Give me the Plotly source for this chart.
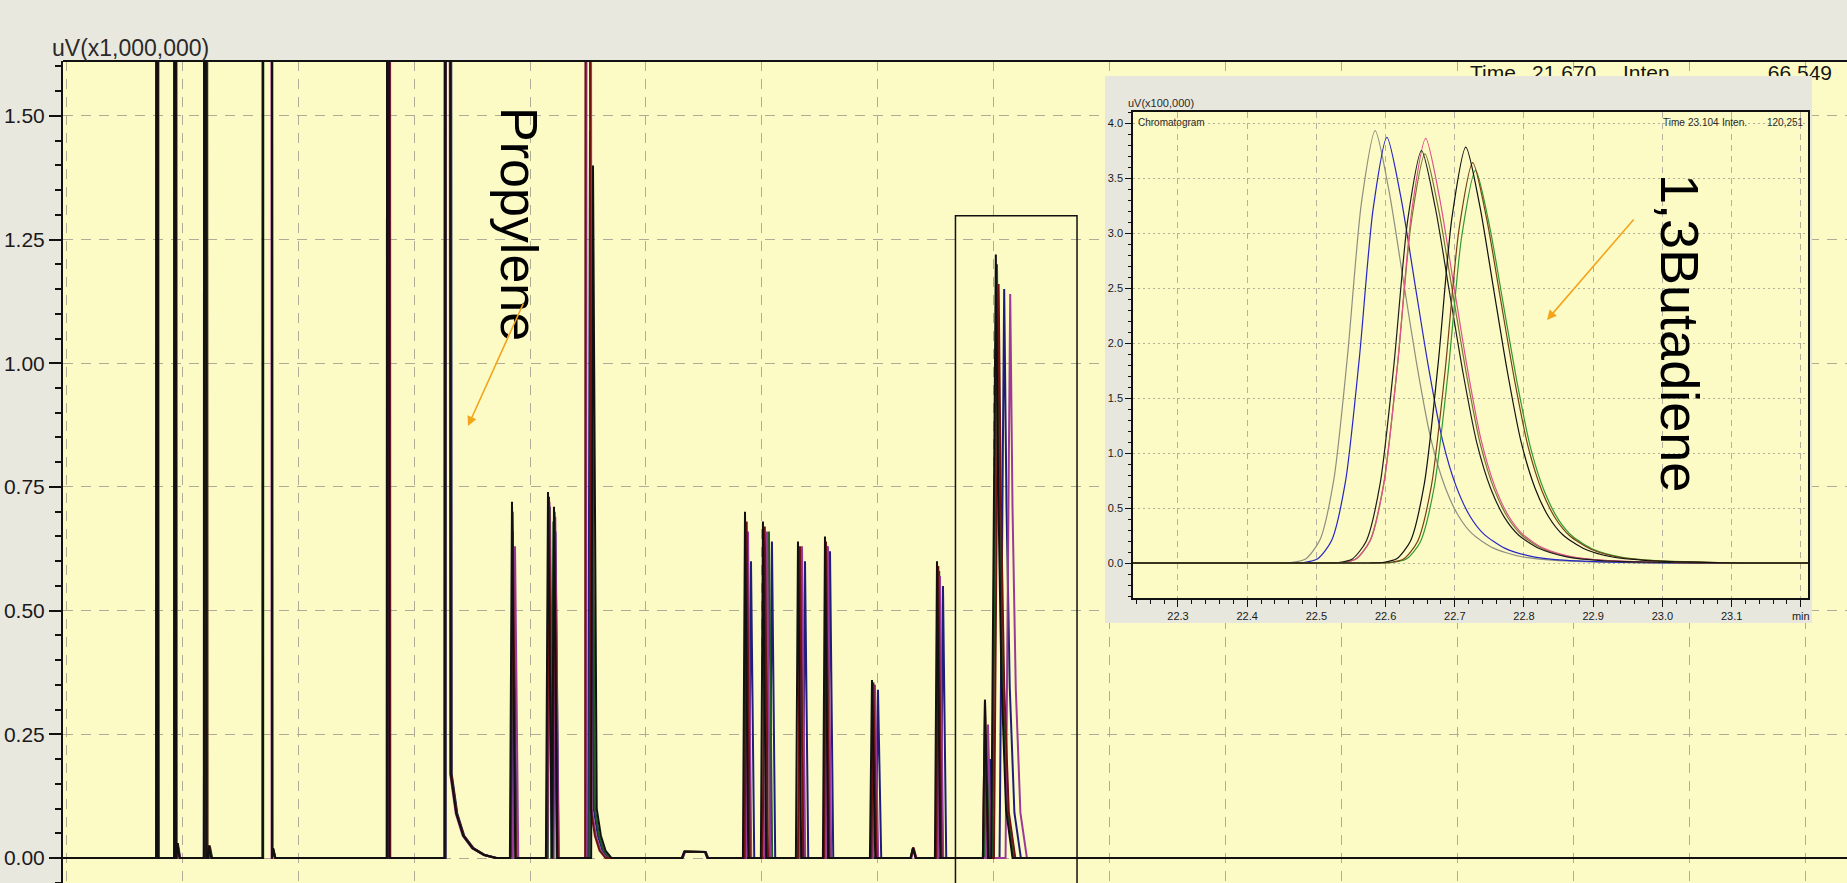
import plotly.graph_objects as go

W, H = 1847, 883

# ---------------- main chromatogram: time (min) vs intensity (uV x1,000,000) ----------------
run_colors = ["#111111", "#6e1212", "#9a3a96", "#1e1e7a", "#1f5c22"]
draw_order = [3, 4, 2, 1, 0]

# apex times / heights per run (runs: black, maroon, magenta, navy, green)
g01_t = [4.461, 4.461, 4.470, 4.482, 4.470];      g01_h = [9, 9, 9, 0.63, 9]
g02_t = [4.849, 4.856, 4.860, 4.849, 4.856];      g02_h = [9, 9, 9, 9, 9]
g02b_t = [4.900, 4.900, 4.910, 4.900, 4.910];     g02b_h = [0.03, 0.03, 0.025, 0.02, 0.03]
g03_t = [5.495, 5.517, 5.506, 5.495, 5.517];      g03_h = [9, 9, 9, 1.30, 9]
g03b_t = [5.580, 5.590, 5.580, 5.590, 5.600];     g03b_h = [0.025, 0.025, 0.02, 0.02, 0.025]
g04_t = [6.842, 6.842, 6.830, 6.842, 6.850];      g04_h = [60, 60, 60, 60, 60]
g04b_t = [6.960, 6.960, 6.955, 6.960, 6.965];     g04b_h = [0.02, 0.02, 0.02, 0.015, 0.02]
g05_t = [9.439, 9.450, 9.461, 9.439, 9.450];      g05_h = [9, 9, 9, 9, 9]
g06_t = [10.711, 10.722, 10.700, 10.733, 10.722]; g06_h = [12, 12, 12, 12, 12]
g07_t = [12.112, 12.125, 12.177, 12.145, 12.130]; g07_h = [0.72, 0.70, 0.63, 0.60, 0.66]
g08_t = [12.888, 12.910, 12.920, 12.900, 12.930]; g08_h = [0.74, 0.73, 0.72, 0.70, 0.71]
g09_t = [13.017, 13.030, 13.045, 13.050, 13.005]; g09_h = [0.71, 0.70, 0.69, 0.66, 0.68]
g10_t = [13.858, 13.728, 13.750, 13.793, 13.820]; g10_h = [1.40, 9, 9, 1.47, 1.38]
g11_t = [15.830, 15.830, 15.840, 15.820, 15.840]; g11_h = [0.013, 0.013, 0.012, 0.012, 0.013]
g13_t = [17.134, 17.170, 17.199, 17.263, 17.150]; g13_h = [0.70, 0.68, 0.66, 0.60, 0.64]
g14_t = [17.521, 17.560, 17.608, 17.715, 17.650]; g14_h = [0.68, 0.67, 0.66, 0.64, 0.66]
g15_t = [18.276, 18.320, 18.362, 18.427, 18.340]; g15_h = [0.64, 0.63, 0.63, 0.60, 0.62]
g16_t = [18.858, 18.880, 18.922, 18.966, 18.900]; g16_h = [0.65, 0.64, 0.63, 0.62, 0.63]
g17_t = [19.871, 19.900, 19.935, 20.000, 19.920]; g17_h = [0.36, 0.355, 0.35, 0.34, 0.35]
g18_t = [20.754, 20.760, 20.770, 20.760, 20.750]; g18_h = [0.02, 0.022, 0.02, 0.018, 0.02]
g19_t = [21.272, 21.300, 21.336, 21.401, 21.320]; g19_h = [0.60, 0.59, 0.57, 0.55, 0.58]
g20_t = [22.306, 22.306, 22.371, 22.414, 22.340]; g20_h = [0.32, 0.32, 0.27, 0.20, 0.25]
g21_t = [22.540, 22.600, 22.850, 22.720, 22.565]; g21_h = [1.22, 1.16, 1.14, 1.15, 1.20]

# peak widths (min)
w_narrow = (0.018, 0.022)
w_thick = (0.025, 0.03)
w_blip = (0.02, 0.05)
w_mid = (0.045, 0.07)
w_broad = (0.10, 0.10)
# tails / plateaus: offsets after apex (min) and intensity
propylene_tail_dt = [0.08, 0.20, 0.35, 0.55, 0.80, 1.05]
propylene_tail_y = [0.17, 0.09, 0.045, 0.02, 0.006, 0.0]
g10_tail_dt = [0.08, 0.17, 0.27, 0.40]
g10_tail_y = [0.10, 0.045, 0.015, 0.0]
plateau_dt = [0.45, 0.50]
plateau_y = [0.012, 0.0]
butadiene_left = 0.10
butadiene_tail_dt = [0.05, 0.12, 0.22, 0.36]
butadiene_tail_ratio = [0.62, 0.30, 0.08, 0.0]

groups = [
    dict(t=g01_t, h=g01_h, wl=w_narrow[0], kind="lin", wr=w_narrow[1]),
    dict(t=g02_t, h=g02_h, wl=w_narrow[0], kind="lin", wr=w_narrow[1]),
    dict(t=g02b_t, h=g02b_h, wl=w_blip[0], kind="lin", wr=w_blip[1]),
    dict(t=g03_t, h=g03_h, wl=w_thick[0], kind="lin", wr=w_thick[1]),
    dict(t=g03b_t, h=g03b_h, wl=w_blip[0], kind="lin", wr=w_blip[1]),
    dict(t=g04_t, h=g04_h, wl=w_broad[0], kind="lin", wr=w_broad[1]),
    dict(t=g04b_t, h=g04b_h, wl=w_blip[0], kind="lin", wr=w_blip[1]),
    dict(t=g05_t, h=g05_h, wl=w_thick[0], kind="lin", wr=w_thick[1]),
    dict(t=g06_t, h=g06_h, wl=0.05, kind="abs", dt=propylene_tail_dt, v=propylene_tail_y),
    dict(t=g07_t, h=g07_h, wl=w_mid[0], kind="lin", wr=w_mid[1]),
    dict(t=g08_t, h=g08_h, wl=w_mid[0], kind="lin", wr=w_mid[1]),
    dict(t=g09_t, h=g09_h, wl=w_mid[0], kind="lin", wr=w_mid[1]),
    dict(t=g10_t, h=g10_h, wl=0.04, kind="abs", dt=g10_tail_dt, v=g10_tail_y),
    dict(t=g11_t, h=g11_h, wl=0.05, kind="abs", dt=plateau_dt, v=plateau_y),
    dict(t=g13_t, h=g13_h, wl=w_mid[0], kind="lin", wr=w_mid[1]),
    dict(t=g14_t, h=g14_h, wl=w_mid[0], kind="lin", wr=w_mid[1]),
    dict(t=g15_t, h=g15_h, wl=w_mid[0], kind="lin", wr=w_mid[1]),
    dict(t=g16_t, h=g16_h, wl=w_mid[0], kind="lin", wr=w_mid[1]),
    dict(t=g17_t, h=g17_h, wl=w_mid[0], kind="lin", wr=w_mid[1]),
    dict(t=g18_t, h=g18_h, wl=0.05, kind="lin", wr=0.06),
    dict(t=g19_t, h=g19_h, wl=w_mid[0], kind="lin", wr=w_mid[1]),
    dict(t=g20_t, h=g20_h, wl=w_mid[0], kind="lin", wr=w_mid[1]),
    dict(t=g21_t, h=g21_h, wl=butadiene_left, kind="ratio", dt=butadiene_tail_dt, v=butadiene_tail_ratio),
]

main_x_range = [2.435, 40.885]
main_y_range = [-0.0505, 1.611]
box_start_min, box_end_min, box_top = 21.67, 24.29, 1.298

# ---------------- inset: 1,3-butadiene, uV x100,000 ----------------
ins_apex_t = [22.585, 22.602, 22.657, 22.658, 22.652, 22.730, 22.726, 22.716]
ins_apex_h = [3.93, 3.87, 3.72, 3.86, 3.75, 3.57, 3.64, 3.78]
ins_colors = ["#8e8e80", "#2626c4", "#77772e", "#e0528c", "#1c1c1c", "#2f9a2f", "#7b3d12", "#101010"]
ins_profile_dt = [-0.14, -0.12, -0.10, -0.08, -0.06, -0.04, -0.02, 0.0, 0.02, 0.04, 0.06,
                  0.08, 0.10, 0.12, 0.14, 0.17, 0.21, 0.26, 0.33, 0.40]
ins_profile_ratio = [0.0, 0.0013, 0.010, 0.053, 0.191, 0.480, 0.832, 1.0, 0.86, 0.66, 0.46,
                     0.29, 0.18, 0.11, 0.068, 0.035, 0.015, 0.006, 0.002, 0.0]
ins_x_ticks = [22.3, 22.4, 22.5, 22.6, 22.7, 22.8, 22.9, 23.0, 23.1, 23.2]
ins_x_labels = ["22.3", "22.4", "22.5", "22.6", "22.7", "22.8", "22.9", "23.0", "23.1", "min"]
ins_y_ticks = [0.0, 0.5, 1.0, 1.5, 2.0, 2.5, 3.0, 3.5, 4.0]
ins_x_range = [22.235, 23.2104]
ins_y_range = [-0.318, 4.1]

main_y_ticks = [0.0, 0.25, 0.5, 0.75, 1.0, 1.25, 1.5]

# ---------------- helpers (pixel -> paper) ----------------
def fx(px):
    return px / W

def fy(py):
    return 1 - py / H

MAIN_L, MAIN_T = 63, 61

def main_px_to_min(px):
    return main_x_range[0] + (px - MAIN_L) / (W - MAIN_L) * (main_x_range[1] - main_x_range[0])

PAPER = "#e9e8df"
YELLOW = "#fcfbc5"
GRID = "#aeac96"
FONT = "Liberation Sans, Arial, sans-serif"
SMALL = "Liberation Sans Narrow, Liberation Sans, Arial, sans-serif"

fig = go.Figure()

# main traces
for r in draw_order:
    pk = sorted(groups, key=lambda g: g["t"][r])
    xs, ys = [2.0], [0.0]
    for g in pk:
        t, h = g["t"][r], g["h"][r]
        xs += [t - g["wl"], t]
        ys += [0.0, h]
        if g["kind"] == "lin":
            xs.append(t + g["wr"]); ys.append(0.0)
        elif g["kind"] == "abs":
            for dt, v in zip(g["dt"], g["v"]):
                xs.append(t + dt); ys.append(v)
        else:
            for dt, v in zip(g["dt"], g["v"]):
                xs.append(t + dt); ys.append(v * h)
    xs.append(41.5); ys.append(0.0)
    fig.add_trace(go.Scatter(x=xs, y=ys, mode="lines", line=dict(color=run_colors[r], width=2),
                             hoverinfo="skip", xaxis="x", yaxis="y"))

# cursor readout of main chart (partly hidden by the inset panel)
cursor_words = ["Time", "21.670", "Inten.", "66,549"]
cursor_px = [1470, 1532, 1623, 1832]
cursor_pos = ["middle right", "middle right", "middle right", "middle left"]
for wtxt, px, pos in zip(cursor_words, cursor_px, cursor_pos):
    fig.add_trace(go.Scatter(x=[main_px_to_min(px)], y=[1.583], mode="text", text=[wtxt],
                             textposition=pos, textfont=dict(family=FONT, size=21, color="#151515"),
                             hoverinfo="skip", xaxis="x", yaxis="y"))

# panel subplot (grey frame of the inset)
fig.add_trace(go.Scatter(x=[0, 1], y=[0, 1], mode="none", hoverinfo="skip", xaxis="x2", yaxis="y2"))

# inset traces
for t0, h0, col in zip(ins_apex_t, ins_apex_h, ins_colors):
    xs = [22.15] + [t0 + d for d in ins_profile_dt] + [23.3]
    ys = [0.0] + [h0 * q for q in ins_profile_ratio] + [0.0]
    fig.add_trace(go.Scatter(x=xs, y=ys, mode="lines", line=dict(color=col, width=1.2, shape="spline", smoothing=0.7),
                             hoverinfo="skip", xaxis="x3", yaxis="y3"))

shapes = [
    dict(type="rect", xref="x2", yref="y2", x0=0, x1=1, y0=0, y1=1, fillcolor="#e8e7dd",
         line=dict(width=0), layer="below"),
    dict(type="line", xref="paper", yref="paper", x0=fx(MAIN_L), x1=1, y0=fy(MAIN_T), y1=fy(MAIN_T),
         line=dict(color="#111111", width=2), layer="above"),
    dict(type="rect", xref="x", yref="y", x0=box_start_min, x1=box_end_min, y0=-0.3, y1=box_top,
         line=dict(color="#111111", width=1.5), layer="above"),
]

def small_text(txt, px, py, anchor="left", size=10):
    return dict(text=txt, x=fx(px), y=fy(py), xref="paper", yref="paper", xanchor=anchor,
                yanchor="middle", showarrow=False, font=dict(family=SMALL, size=size, color="#2a2a2a"))

annotations = [
    dict(text="uV(x1,000,000)", x=fx(50), y=fy(48), xref="paper", yref="paper", xanchor="left",
         yanchor="middle", showarrow=False, font=dict(family=FONT, size=23, color="#2a2a2a")),
    small_text("uV(x100,000)", 1126, 103, size=11),
    small_text("Chromatogram", 1136, 123),
    small_text("Time", 1661, 123),
    small_text("23.104", 1686, 123),
    small_text("Inten.", 1720, 123),
    small_text("120,251", 1806, 123, anchor="right"),
    dict(text="Propylene", x=fx(519), y=fy(224), xref="paper", yref="paper", xanchor="center",
         yanchor="middle", showarrow=False, textangle=90, font=dict(family=FONT, size=52, color="#000000")),
    dict(text="1,3Butadiene", x=fx(1680), y=fy(333), xref="paper", yref="paper", xanchor="center",
         yanchor="middle", showarrow=False, textangle=90, font=dict(family=FONT, size=54, color="#000000")),
    dict(text="", x=fx(468), y=fy(426), xref="paper", yref="paper", showarrow=True, ax=56, ay=-124,
         arrowhead=2, arrowsize=1.2, arrowwidth=1.6, arrowcolor="#f3a51c"),
    dict(text="", x=fx(1547), y=fy(320), xref="paper", yref="paper", showarrow=True, ax=88, ay=-102,
         arrowhead=2, arrowsize=1.2, arrowwidth=1.6, arrowcolor="#f3a51c"),
]

fig.update_layout(
    width=W, height=H, margin=dict(l=0, r=0, t=0, b=0),
    paper_bgcolor=PAPER, plot_bgcolor=YELLOW, showlegend=False, template="none",
    shapes=shapes, annotations=annotations,
    xaxis=dict(domain=[fx(MAIN_L), 1], range=main_x_range, showgrid=True, gridcolor=GRID,
               griddash="10px,8px", gridwidth=1, dtick=2.5, tick0=5.0, showticklabels=False,
               ticks="", zeroline=False, showline=False, automargin=False),
    yaxis=dict(domain=[0, fy(MAIN_T)], range=main_y_range, tickvals=main_y_ticks, tickformat=".2f",
               ticks="outside", ticklen=12, tickwidth=2, tickcolor="#111111", showline=True,
               linewidth=2, linecolor="#111111", showgrid=True, gridcolor=GRID, griddash="10px,8px",
               zeroline=False, automargin=False,
               tickfont=dict(family=FONT, size=21, color="#1a1a1a"),
               minor=dict(dtick=0.05, tick0=0, ticks="outside", ticklen=6, tickwidth=2,
                          tickcolor="#111111", showgrid=False)),
    xaxis2=dict(domain=[fx(1105), fx(1812)], range=[0, 1], visible=False, anchor="y2"),
    yaxis2=dict(domain=[fy(623), fy(76)], range=[0, 1], visible=False, anchor="x2"),
    xaxis3=dict(domain=[fx(1133), fx(1808)], range=ins_x_range, anchor="y3", tickvals=ins_x_ticks,
                ticktext=ins_x_labels, ticks="outside", ticklen=7, tickwidth=1, tickcolor="#111111",
                showline=True, mirror=True, linewidth=1.5, linecolor="#111111", showgrid=True,
                gridcolor="#b4b29f", griddash="6px,5px", gridwidth=1, zeroline=False, automargin=False,
                tickfont=dict(family=SMALL, size=11, color="#1a1a1a"),
                minor=dict(dtick=0.02, tick0=22.3, ticks="outside", ticklen=4, tickwidth=1,
                           tickcolor="#111111", showgrid=False)),
    yaxis3=dict(domain=[fy(598), fy(112)], range=ins_y_range, anchor="x3", tickvals=ins_y_ticks,
                tickformat=".1f", ticks="outside", ticklen=6, tickwidth=1, tickcolor="#111111",
                showline=True, mirror=True, linewidth=1.5, linecolor="#111111", showgrid=True,
                gridcolor="#b4b29f", griddash="2px,3px", gridwidth=1, zeroline=False, automargin=False,
                tickfont=dict(family=SMALL, size=11, color="#1a1a1a"),
                minor=dict(dtick=0.1, tick0=0, ticks="outside", ticklen=3, tickwidth=1,
                           tickcolor="#111111", showgrid=False)),
)

fig.write_html("out.html")
